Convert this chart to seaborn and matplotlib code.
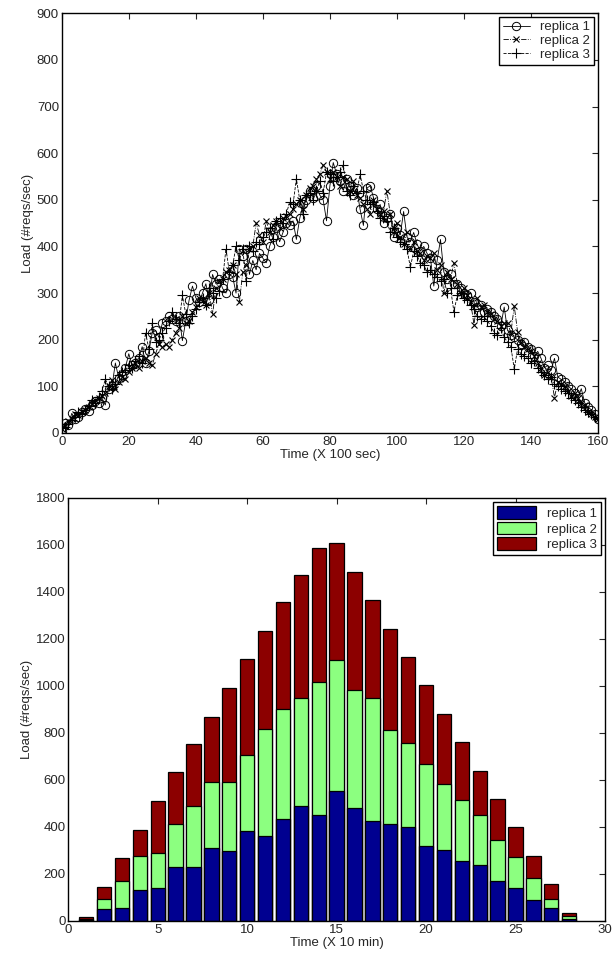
import numpy as np
import pandas as pd
import matplotlib
matplotlib.use("Agg")
import matplotlib.pyplot as plt
from matplotlib.patches import Patch
from matplotlib.lines import Line2D
import seaborn as sns

# ---------------- data: top chart (Time X 100 sec) ----------------
time_top = list(range(0, 161))
replica1_top = [
    5, 22, 18, 42, 30, 35, 45, 52, 48, 60,
    68, 65, 75, 60, 95, 100, 150, 118, 125, 140,
    170, 145, 150, 160, 185, 150, 175, 215, 220, 205,
    235, 240, 250, 245, 240, 250, 198, 240, 285, 315,
    290, 280, 300, 320, 285, 340, 320, 330, 310, 300,
    340, 335, 300, 395, 380, 395, 340, 370, 350, 385,
    375, 365, 400, 420, 440, 410, 430, 450, 445, 455,
    415, 460, 490, 500, 520, 505, 530, 510, 500, 455,
    530, 580, 555, 540, 520, 545, 530, 510, 525, 480,
    445, 525, 530, 505, 480, 490, 450, 460, 470, 420,
    440, 425, 475, 420, 410, 430, 405, 390, 400, 385,
    375, 315, 370, 415, 345, 330, 340, 320, 320, 310,
    300, 295, 300, 280, 270, 275, 260, 265, 260, 250,
    245, 230, 270, 220, 210, 205, 200, 190, 195, 185,
    180, 165, 175, 160, 140, 145, 135, 160, 120, 115,
    110, 100, 95, 85, 75, 95, 65, 55, 50, 40,
    30]
replica2_top = [
    8, 15, 25, 30, 40, 38, 45, 50, 55, 62,
    70, 75, 80, 85, 100, 114, 95, 110, 120, 115,
    130, 140, 150, 140, 155, 160, 150, 145, 170, 190,
    185, 190, 185, 200, 215, 225, 250, 235, 240, 260,
    270, 290, 285, 275, 300, 255, 310, 325, 330, 345,
    350, 360, 340, 280, 345, 360, 395, 400, 450, 425,
    410, 455, 430, 445, 455, 440, 460, 465, 470, 480,
    490, 500, 480, 510, 525, 530, 545, 555, 575, 560,
    545, 560, 550, 530, 550, 545, 520, 540, 510, 505,
    490, 480, 470, 500, 480, 470, 475, 520, 470, 440,
    450, 420, 405, 430, 395, 410, 390, 385, 370, 380,
    375, 385, 350, 360, 300, 345, 330, 365, 320, 300,
    310, 295, 280, 232, 290, 270, 275, 260, 255, 245,
    240, 230, 235, 236, 215, 272, 217, 195, 185, 180,
    175, 165, 150, 140, 125, 130, 120, 76, 110, 105,
    100, 90, 80, 85, 75, 65, 60, 45, 40, 35,
    30]
replica3_top = [
    10, 12, 20, 28, 35, 45, 40, 50, 58, 70,
    65, 78, 90, 115, 100, 95, 105, 125, 130, 135,
    145, 140, 155, 165, 150, 215, 180, 235, 195, 200,
    215, 225, 240, 260, 245, 235, 295, 255, 235, 250,
    265, 280, 290, 275, 310, 300, 290, 305, 330, 395,
    345, 360, 400, 370, 395, 325, 400, 390, 410, 405,
    420, 430, 440, 415, 455, 460, 450, 470, 495, 490,
    545, 500, 470, 510, 515, 500, 520, 540, 515, 560,
    555, 540, 550, 560, 575, 520, 510, 530, 515, 555,
    520, 500, 490, 495, 475, 460, 465, 455, 430, 440,
    420, 410, 405, 395, 355, 390, 380, 365, 360, 345,
    350, 340, 335, 325, 330, 300, 310, 260, 295, 300,
    290, 285, 275, 265, 250, 245, 250, 240, 230, 215,
    210, 225, 205, 195, 185, 137, 180, 170, 165, 160,
    150, 155, 140, 130, 125, 115, 120, 105, 100, 95,
    90, 85, 75, 70, 65, 55, 50, 45, 40, 35,
    30]

# ---------------- data: bottom chart (Time X 10 min) ----------------
time_bottom = list(range(1, 29))
replica1_bottom = [4, 50, 54, 133, 140, 229, 231, 311, 296, 383, 360, 436, 490, 453,
                   553, 480, 424, 411, 400, 317, 300, 257, 239, 171, 139, 89, 57, 10]
replica2_bottom = [6, 43, 117, 143, 150, 184, 258, 279, 295, 323, 457, 468, 460, 566,
                   556, 503, 526, 402, 357, 350, 283, 259, 214, 175, 132, 94, 37, 10]
replica3_bottom = [5, 50, 98, 113, 220, 220, 264, 279, 400, 408, 416, 453, 524, 570,
                   498, 503, 414, 430, 367, 336, 298, 244, 187, 173, 128, 94, 63, 16]

series_names = ["replica 1", "replica 2", "replica 3"]
bar_colors = ["#000090", "#8cff80", "#8c0000"]

# ---------------- style ----------------
sns.set_style("white")
plt.rcParams["font.family"] = ["Liberation Sans", "DejaVu Sans"]
plt.rcParams["axes.linewidth"] = 1.0
plt.rcParams["axes.edgecolor"] = "black"

fig = plt.figure(figsize=(6.13, 9.66), dpi=100)
ax1 = fig.add_axes([0.1007, 0.5518, 0.8749, 0.4344])
ax2 = fig.add_axes([0.1114, 0.0466, 0.8755, 0.4379])

FS = 9.5

# ---------------- top chart ----------------
t = np.array(time_top)
line_styles = [
    dict(marker="o", markersize=6, markerfacecolor="none", markeredgewidth=0.7, linestyle="-"),
    dict(marker="x", markersize=5, markeredgewidth=0.8, linestyle="-."),
    dict(marker="+", markersize=7, markeredgewidth=0.8, linestyle="--"),
]
for vals, st in zip([replica1_top, replica2_top, replica3_top], line_styles):
    sns.lineplot(x=t, y=np.array(vals), ax=ax1, color="black", lw=0.6,
                 markeredgecolor="black", **st)
ax1.set_xlim(0, 160)
ax1.set_ylim(0, 900)
ax1.set_xticks(range(0, 161, 20))
ax1.set_yticks(range(0, 901, 100))
ax1.set_xlabel("Time (X 100 sec)", fontsize=FS, labelpad=1)
ax1.set_ylabel("Load (#reqs/sec)", fontsize=FS, labelpad=2)

top_handles = [Line2D([], [], color="black", lw=0.6, markeredgecolor="black", **st)
               for st in line_styles]
leg1 = ax1.legend(top_handles, series_names, loc="upper right", fontsize=FS,
                  frameon=True, fancybox=False, framealpha=1, edgecolor="black",
                  borderpad=0.3, labelspacing=0.1, handlelength=2.0,
                  handletextpad=0.8, borderaxespad=0.3)
leg1.get_frame().set_linewidth(1.0)

# ---------------- bottom chart (stacked) ----------------
r1 = np.array(replica1_bottom)
r2 = np.array(replica2_bottom)
r3 = np.array(replica3_bottom)
df = pd.DataFrame({
    "time": time_bottom,
    "s1": r1,
    "s12": r1 + r2,
    "s123": r1 + r2 + r3,
})
for col, colr in zip(["s123", "s12", "s1"], bar_colors[::-1]):
    sns.barplot(data=df, x="time", y=col, ax=ax2, native_scale=True, width=0.8,
                color=colr, saturation=1, errorbar=None, edgecolor="black",
                linewidth=0.9)
ax2.set_xlim(0, 30)
ax2.set_ylim(0, 1800)
ax2.set_xticks(range(0, 31, 5))
ax2.set_yticks(range(0, 1801, 200))
ax2.set_xlabel("Time (X 10 min)", fontsize=FS, labelpad=1)
ax2.set_ylabel("Load (#reqs/sec)", fontsize=FS, labelpad=2)

bar_handles = [Patch(facecolor=c, edgecolor="black", linewidth=0.9) for c in bar_colors]
leg2 = ax2.legend(bar_handles, series_names, loc="upper right", fontsize=FS,
                  frameon=True, fancybox=False, framealpha=1, edgecolor="black",
                  borderpad=0.3, labelspacing=0.15, handlelength=3.0,
                  handleheight=1.1, handletextpad=0.8, borderaxespad=0.3)
leg2.get_frame().set_linewidth(1.0)

for ax in (ax1, ax2):
    ax.tick_params(direction="in", top=True, right=True, length=4, width=0.8,
                   labelsize=FS, pad=2)
    for sp in ax.spines.values():
        sp.set_visible(True)
        sp.set_color("black")
        sp.set_linewidth(1.0)

fig.savefig("out.png", dpi=100)
